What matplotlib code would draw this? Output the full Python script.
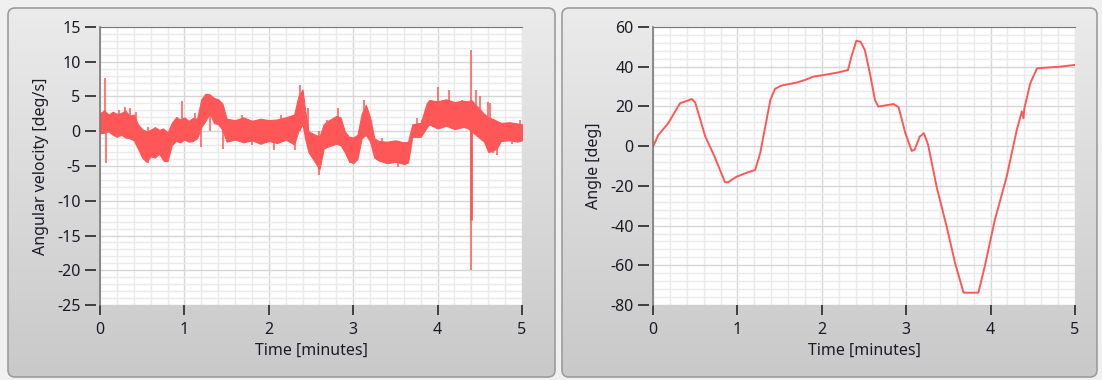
import matplotlib
matplotlib.use("Agg")
import matplotlib.pyplot as plt
from matplotlib.patches import FancyBboxPatch
from matplotlib.colors import LinearSegmentedColormap
from matplotlib.ticker import MultipleLocator, AutoMinorLocator
import numpy as np

plt.rcParams["font.family"] = ["Noto Sans", "DejaVu Sans"]
plt.rcParams["axes.unicode_minus"] = False

# angular velocity: band of the noisy trace (time [min], low, high)
vel_t = [0.00, 0.05, 0.10, 0.15, 0.20, 0.25, 0.30, 0.35, 0.40, 0.45,
         0.50, 0.55, 0.60, 0.65, 0.70, 0.75, 0.80, 0.85, 0.90, 0.95,
         1.00, 1.05, 1.10, 1.15, 1.20, 1.25, 1.30, 1.35, 1.40, 1.45,
         1.50, 1.60, 1.70, 1.80, 1.90, 2.00, 2.10, 2.20, 2.30, 2.35,
         2.40, 2.43, 2.47, 2.55, 2.60, 2.65, 2.70, 2.80, 2.85, 2.90,
         2.95, 3.00, 3.05, 3.10, 3.15, 3.20, 3.25, 3.30, 3.40, 3.50,
         3.60, 3.65, 3.70, 3.80, 3.87, 3.90, 4.00, 4.10, 4.20, 4.30,
         4.35, 4.40, 4.45, 4.50, 4.55, 4.60, 4.65, 4.70, 4.75, 4.85,
         4.95, 5.00]
vel_lo = [-0.3, -0.2, 0.0, -0.5, -0.8, -0.5, -0.9, -1.0, -1.3, -2.5,
          -3.8, -4.4, -3.6, -3.8, -3.2, -4.2, -4.3, -2.0, -1.4, -1.6,
          -1.2, -1.5, -1.4, -1.0, 0.6, 1.5, 2.6, 1.2, 1.0, 0.2,
          -1.5, -1.2, -1.6, -1.3, -1.8, -1.4, -1.7, -1.2, -1.9, 0.0,
          1.0, -1.0, -3.0, -4.5, -5.5, -2.5, -2.2, -1.8, -2.0, -3.0,
          -4.3, -4.6, -4.0, -1.0, -0.5, -1.5, -3.8, -4.2, -4.6, -4.4,
          -4.7, -4.5, -0.8, -0.8, 0.5, 1.0, 0.4, 0.8, 0.3, 0.6,
          0.5, 0.0, -0.5, -1.0, -1.5, -3.0, -2.8, -2.5, -1.4, -1.3,
          -1.5, -1.3]
vel_hi = [2.6, 3.0, 2.4, 2.8, 2.5, 2.6, 3.0, 2.2, 2.4, 1.0,
          0.3, 0.0, 0.2, 0.6, 0.2, 0.4, -0.2, 1.2, 2.0, 1.7,
          2.0, 1.5, 1.9, 1.8, 4.6, 5.4, 5.3, 4.8, 4.6, 4.0,
          1.8, 1.6, 2.0, 1.5, 1.8, 1.6, 1.7, 2.0, 2.4, 5.0,
          6.0, 3.0, 0.0, -0.5, -0.8, 1.0, 1.5, 2.2, 2.0, 0.0,
          -0.8, -0.9, -0.5, 2.5, 3.8, 2.0, -1.0, -1.4, -1.5, -1.3,
          -1.6, -1.5, 1.0, 1.2, 4.0, 4.5, 4.3, 4.6, 4.2, 4.4,
          4.3, 4.5, 3.8, 3.2, 2.5, 2.0, 1.8, 1.5, 1.2, 1.3,
          1.1, 1.0]

# single spikes standing out of the band
spike_t = [0.055, 0.07, 0.22, 0.30, 0.35, 0.43, 0.57, 0.77, 0.91, 0.97,
           1.13, 1.20, 1.30, 1.46, 1.68, 1.80, 2.06, 2.15, 2.31, 2.37,
           2.47, 2.59, 2.69, 2.82, 2.96, 3.13, 3.34, 3.53, 3.61, 3.75,
           3.82, 4.00, 4.14, 4.285, 4.40, 4.46, 4.50, 4.60, 4.62, 4.66,
           4.70, 4.88, 4.98]
spike_lo = [0.0, -4.6, 0.0, 0.0, 0.0, 0.0, -4.6, -4.4, 0.0, 0.0,
            0.0, -2.2, 0.0, -2.5, 0.0, -2.0, -2.7, 0.0, -2.7, 0.0,
            0.0, -6.3, 0.0, 0.0, -4.6, 0.0, -2.0, -5.1, -4.9, 0.0,
            0.0, 1.0, 1.0, 1.0, -20.0, 1.0, 0.0, 0.0, 0.0, -3.2,
            -3.4, -1.8, 0.0]
spike_hi = [7.6, 1.0, 3.0, 3.5, 3.3, 2.8, 0.6, 0.0, 2.1, 4.3,
            2.6, 2.0, 5.0, 2.0, 2.3, 1.5, 1.5, 2.3, 2.0, 6.6,
            3.3, 0.0, 1.6, 3.3, -1.0, 4.5, -1.0, -2.0, -2.0, 1.9,
            1.6, 6.4, 5.9, 4.5, 11.7, 5.9, 5.0, 4.2, 4.0, 0.0,
            0.0, 1.0, 1.6]

# angle trace
ang_t = [0.00, 0.063, 0.18, 0.32, 0.46, 0.50, 0.62, 0.73, 0.853, 0.89,
         0.99, 1.11, 1.21, 1.27, 1.39, 1.445, 1.52, 1.70, 1.80, 1.90,
         2.02, 2.18, 2.31, 2.35, 2.41, 2.46, 2.51, 2.57, 2.63, 2.67,
         2.85, 2.91, 2.99, 3.065, 3.10, 3.16, 3.21, 3.26, 3.36, 3.48,
         3.58, 3.68, 3.855, 3.93, 4.05, 4.19, 4.31, 4.37, 4.39, 4.40,
         4.47, 4.55, 4.82, 5.00]
ang_v = [-0.3, 5.6, 11.5, 21.6, 23.7, 22.0, 4.8, -5.3, -18.2, -18.2,
         -15.4, -13.4, -12.0, -3.6, 23.2, 28.8, 30.5, 32.0, 33.3, 35.0,
         35.8, 37.0, 38.3, 45.0, 53.1, 52.5, 48.4, 36.7, 23.2, 19.9,
         21.2, 19.6, 6.5, -2.4, -1.8, 4.8, 6.5, 0.6, -20.4, -40.6,
         -59.0, -73.8, -73.8, -60.7, -37.2, -15.4, 8.1, 17.5, 14.0, 19.0,
         31.6, 39.2, 40.0, 40.9]

W, H = 1102, 380
fig = plt.figure(figsize=(W / 100, H / 100), dpi=100)
fig.patch.set_facecolor("#f0f0f0")

# panel frames, drawn in pixel coords
bg = fig.add_axes([0, 0, 1, 1])
bg.set_xlim(0, W)
bg.set_ylim(H, 0)
bg.axis("off")
grad = np.linspace(0, 1, 256).reshape(-1, 1)
cmap = LinearSegmentedColormap.from_list("g", ["#ebebeb", "#c9c9c9"])
for x0, x1 in [(8, 555), (562, 1097)]:
    box = FancyBboxPatch((x0, 8), x1 - x0, 369, boxstyle="round,pad=0,rounding_size=7",
                         facecolor="none", edgecolor="#9c9c9c", lw=1.2, zorder=3)
    bg.add_patch(box)
    im = bg.imshow(grad, extent=(x0, x1, 377, 8), cmap=cmap, aspect="auto", zorder=1)
    im.set_clip_path(box)


def style(ax, ylim, ystep, ylabel):
    ax.set_facecolor("white")
    ax.set_xlim(0, 5)
    ax.set_ylim(*ylim)
    ax.xaxis.set_major_locator(MultipleLocator(1))
    ax.yaxis.set_major_locator(MultipleLocator(ystep))
    ax.xaxis.set_minor_locator(AutoMinorLocator(5))
    ax.yaxis.set_minor_locator(AutoMinorLocator(5))
    ax.grid(which="major", color="#d6d6d6", lw=1.0)
    ax.grid(which="minor", color="#eaeaea", lw=1.0)
    ax.set_axisbelow(True)
    for s in ["right", "bottom"]:
        ax.spines[s].set_visible(False)
    ax.spines["left"].set_position(("outward", 3))
    ax.spines["left"].set_color("none")
    ax.spines["top"].set_color("#7a7a7a")
    ax.axvline(0, color="#7a7a7a", lw=1.2, clip_on=False, zorder=5)
    ax.tick_params(which="major", direction="out", length=8, width=1.3, color="#333333",
                   labelsize=11.5, labelcolor="#1c1c28", pad=3)
    ax.tick_params(axis="x", which="major", length=7, pad=5)
    ax.tick_params(which="minor", length=0)
    ax.set_xlabel("Time [minutes]", fontsize=11.5, color="#1c1c28", labelpad=4)
    ax.set_ylabel(ylabel, fontsize=11.5, color="#1c1c28", labelpad=6)


red = "#ff5757"

ax1 = fig.add_axes([100 / W, 75 / H, 422 / W, 278 / H])
style(ax1, (-25, 15), 5, "Angular velocity [deg/s]")
ax1.fill_between(vel_t, vel_lo, vel_hi, color=red, lw=0.8, edgecolor=red)
ax1.vlines(spike_t, spike_lo, spike_hi, color=red, lw=1.1)
ax1.vlines([4.40], [-12.8], [3.0], color=red, lw=2.0)

ax2 = fig.add_axes([653 / W, 75 / H, 422 / W, 278 / H])
style(ax2, (-80, 60), 20, "Angle [deg]")
ax2.plot(ang_t, ang_v, color=red, lw=1.4)

fig.savefig("out.png", dpi=100, facecolor=fig.get_facecolor())
